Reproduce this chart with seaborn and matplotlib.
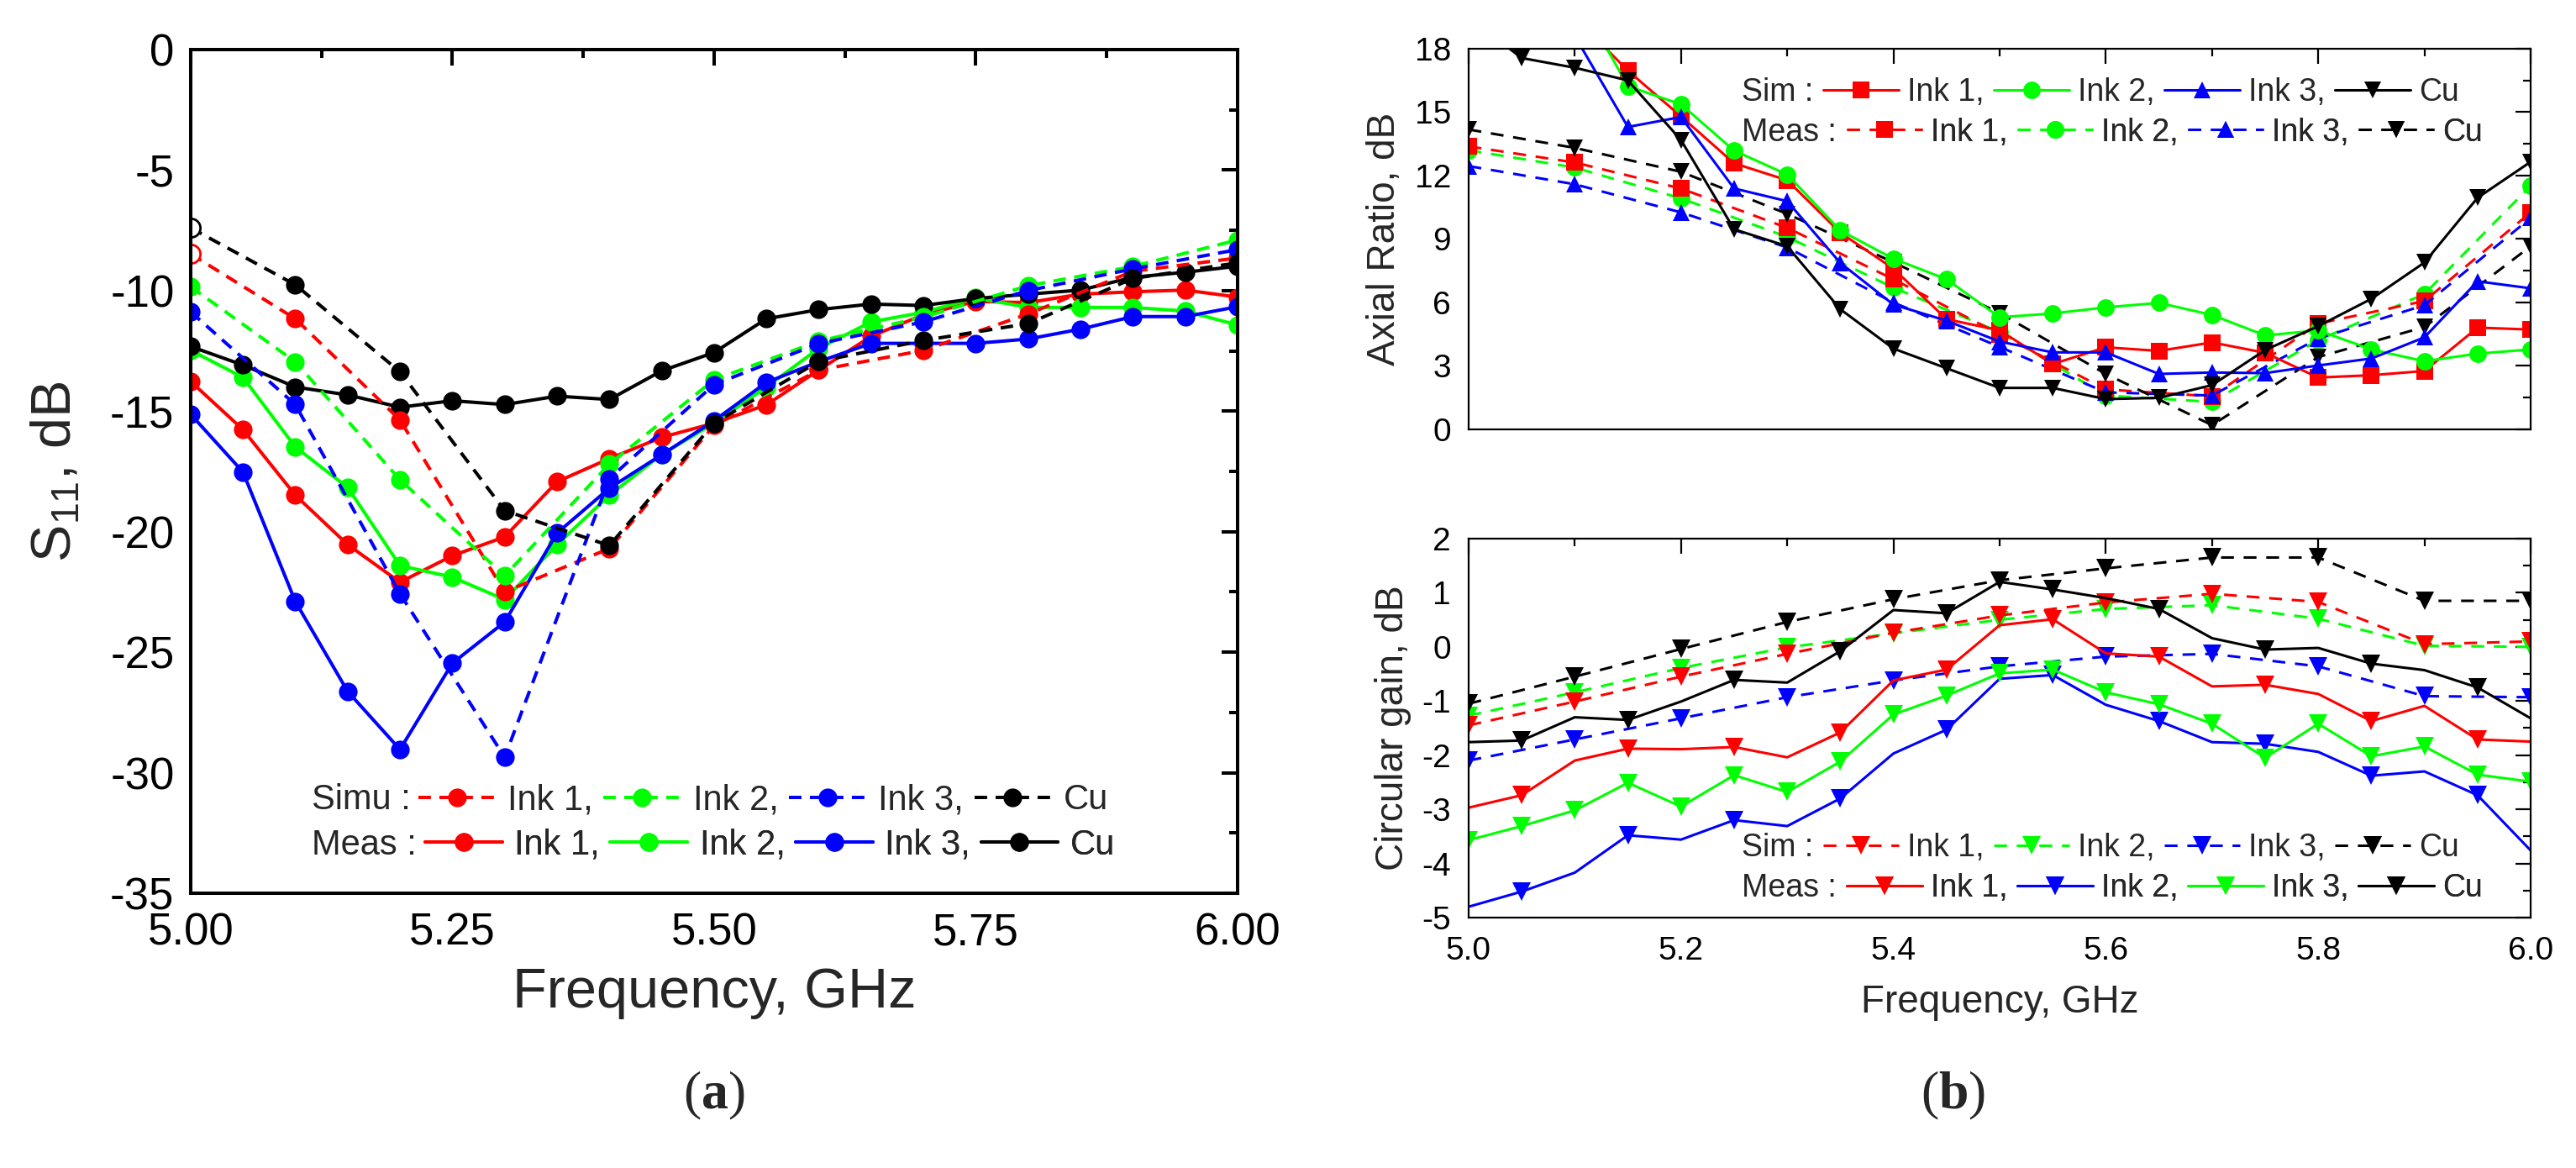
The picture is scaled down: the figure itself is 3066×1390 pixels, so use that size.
import matplotlib
matplotlib.use("Agg")
import numpy as np
import matplotlib.pyplot as plt
import seaborn as sns
from matplotlib.lines import Line2D
from matplotlib.ticker import MultipleLocator, FormatStrFormatter

nan = np.nan

# frequency grids, GHz
freq_fine = [5.00, 5.05, 5.10, 5.15, 5.20, 5.25, 5.30, 5.35, 5.40, 5.45, 5.50,
             5.55, 5.60, 5.65, 5.70, 5.75, 5.80, 5.85, 5.90, 5.95, 6.00]
freq_coarse = [5.0, 5.1, 5.2, 5.3, 5.4, 5.5, 5.6, 5.7, 5.8, 5.9, 6.0]

### (a) S11 ###
s11_sim_ink1 = [-8.48, -11.17, -15.37, -22.5, -20.7, -15.6, -13.3, -12.48, -10.97, -9.2, -8.65]
s11_sim_ink2 = [-9.84, -12.96, -17.85, -21.83, -17.2, -13.7, -12.1, -11.1, -9.8, -9.0, -7.9]
s11_sim_ink3 = [-10.88, -14.73, -22.58, -29.36, -17.8, -13.9, -12.2, -11.3, -10.0, -9.1, -8.3]
s11_sim_cu = [-7.4, -9.76, -13.37, -19.13, -20.58, -15.5, -12.94, -12.07, -11.37, -9.5, -8.85]

s11_meas_ink1 = [-13.77, -15.77, -18.49, -20.54, -22.1, -21.0, -20.22, -17.93, -16.97, -16.09, -15.5,
                 -14.74, -13.3, -11.9, -11.0, -10.45, -10.5, -10.15, -10.05, -9.98, -10.27]
s11_meas_ink2 = [-12.48, -13.6, -16.49, -18.17, -21.41, -21.89, -22.82, -20.54, -18.49, -16.8, -15.5,
                 -14.0, -12.4, -11.3, -10.9, -10.3, -10.7, -10.7, -10.7, -10.85, -11.43]
s11_meas_ink3 = [-15.13, -17.53, -22.9, -26.63, -29.04, -25.46, -23.75, -20.06, -18.2, -16.81, -15.4,
                 -13.81, -12.95, -12.19, -12.19, -12.19, -12.01, -11.6, -11.08, -11.08, -10.67]
s11_meas_cu = [-12.32, -13.09, -14.0, -14.33, -14.84, -14.57, -14.73, -14.38, -14.52, -13.33, -12.57,
               -11.17, -10.79, -10.56, -10.62, -10.33, -10.15, -9.98, -9.45, -9.24, -8.99]

### (b) axial ratio ###
ar_sim_ink1 = [nan, nan, 19.5, 16.96, 14.8, 12.58, 11.78, 9.3, 7.6, 5.21, 4.68,
               3.09, 3.88, 3.71, 4.11, 3.62, 2.45, 2.56, 2.76, 4.81, 4.72]
ar_sim_ink2 = [nan, nan, 20.7, 16.23, 15.37, 13.18, 12.05, 9.4, 8.07, 7.1, 5.3,
               5.48, 5.77, 5.98, 5.41, 4.44, 4.68, 3.78, 3.22, 3.58, 3.78]
ar_sim_ink3 = [nan, nan, 18.6, 14.3, 14.77, 11.39, 10.79, 7.87, 5.9, 5.14, 4.15,
               3.64, 3.64, 2.62, 2.69, 2.66, 3.02, 3.35, 4.35, 7.0, 6.67]
ar_sim_cu = [19.5, 17.56, 17.1, 16.5, 13.68, 9.46, 8.66, 5.68, 3.82, 2.89, 1.96,
             1.96, 1.43, 1.49, 2.09, 3.75, 4.88, 6.17, 7.89, 10.95, 12.65]

ar_meas_ink1 = [13.38, 12.62, 11.39, 9.53, 7.1, 4.5, 1.89, 1.56, 5.0, 6.07, 10.26]
ar_meas_ink2 = [13.2, 12.38, 10.92, 9.1, 6.7, 4.6, 1.6, 1.3, 4.22, 6.4, 11.52]
ar_meas_ink3 = [12.45, 11.59, 10.26, 8.6, 6.0, 3.9, 1.75, 1.6, 4.3, 5.87, 10.0]
ar_meas_cu = [14.18, 13.31, 12.18, 10.19, 7.9, 5.5, 2.62, 0.2, 3.42, 4.84, 8.66]

### (b) circular gain ###
gain_sim_ink1 = [-1.45, -1.01, -0.55, -0.13, 0.26, 0.58, 0.82, 0.98, 0.83, 0.05, 0.10]
gain_sim_ink2 = [-1.27, -0.84, -0.39, -0.01, 0.25, 0.5, 0.7, 0.77, 0.52, 0.02, 0.0]
gain_sim_ink3 = [-2.10, -1.71, -1.32, -0.93, -0.62, -0.36, -0.18, -0.13, -0.36, -0.91, -0.93]
gain_sim_cu = [-1.05, -0.55, -0.04, 0.46, 0.88, 1.23, 1.45, 1.65, 1.65, 0.85, 0.85]

gain_meas_ink1 = [-2.97, -2.74, -2.10, -1.88, -1.89, -1.85, -2.04, -1.58, -0.62, -0.42, 0.4,
                  0.51, -0.12, -0.18, -0.73, -0.70, -0.87, -1.37, -1.09, -1.71, -1.75]
gain_meas_ink2 = [-4.80, -4.52, -4.17, -3.48, -3.56, -3.20, -3.31, -2.80, -1.97, -1.53, -0.59,
                  -0.52, -1.07, -1.37, -1.76, -1.79, -1.94, -2.38, -2.30, -2.74, -3.76]
gain_meas_ink3 = [-3.57, -3.31, -3.02, -2.51, -2.95, -2.37, -2.68, -2.12, -1.25, -0.9, -0.49,
                  -0.42, -0.84, -1.06, -1.42, -2.05, -1.42, -2.02, -1.84, -2.36, -2.49]
gain_meas_cu = [-1.76, -1.73, -1.30, -1.35, -1.01, -0.61, -0.66, -0.08, 0.68, 0.62, 1.2,
                1.06, 0.9, 0.70, 0.16, -0.05, -0.02, -0.31, -0.43, -0.75, -1.32]

legend_labels = ['Ink 1,', 'Ink 2,', 'Ink 3,', 'Cu']

RED, GREEN, BLUE, BLACK = '#ff0000', '#00ff00', '#0000ff', '#000000'

sns.set_theme(style="white")
plt.rcParams['font.family'] = ['Liberation Sans', 'DejaVu Sans']
plt.rcParams['axes.unicode_minus'] = False
plt.rcParams['mathtext.fontset'] = 'custom'
plt.rcParams['mathtext.rm'] = 'Liberation Sans'
plt.rcParams['mathtext.it'] = 'Liberation Sans:italic'
plt.rcParams['mathtext.bf'] = 'Liberation Serif:bold'


def draw(ax, x, y, color, marker, dashed, lw, ms, dash, markevery=None):
    ls = (0, dash) if dashed else '-'
    sns.lineplot(x=x, y=y, ax=ax, color=color, marker=marker, markersize=ms,
                 linewidth=lw, linestyle=ls, markeredgewidth=0, markevery=markevery,
                 sort=False, estimator=None, legend=False)


def handle(color, marker, dashed, lw, ms, dash):
    ls = (0, dash) if dashed else '-'
    return Line2D([], [], color=color, marker=marker, markersize=ms, linewidth=lw,
                  linestyle=ls, markeredgewidth=0)


def two_row_legend(ax, prefixes, rows, prefix_x, handle_x, row_y, fs, hl, htp, cs):
    for pre, hx, y, hs in zip(prefixes, handle_x, row_y, rows):
        ax.text(prefix_x, y, pre, transform=ax.transAxes, fontsize=fs,
                ha='left', va='center')
        leg = ax.legend(hs, legend_labels, ncol=4, loc='center left',
                        bbox_to_anchor=(hx, y), frameon=False, fontsize=fs,
                        handlelength=hl, handletextpad=htp, columnspacing=cs,
                        borderpad=0, borderaxespad=0, numpoints=1)
        ax.add_artist(leg)


fig = plt.figure(figsize=(30.66, 13.90), dpi=100)
ax1 = fig.add_axes([0.0740, 0.2353, 0.4064, 0.7223])
ax2 = fig.add_axes([0.5701, 0.6324, 0.4123, 0.3259])
ax3 = fig.add_axes([0.5701, 0.2144, 0.4123, 0.3245])

### (a) ###
lwa, msa, dasha = 2.9, 16, (3.7, 2.5)
cols = [RED, GREEN, BLUE, BLACK]
meas_a = [s11_meas_ink1, s11_meas_ink2, s11_meas_ink3, s11_meas_cu]
sim_a = [s11_sim_ink1, s11_sim_ink2, s11_sim_ink3, s11_sim_cu]
for c, y in zip(cols, meas_a):
    draw(ax1, freq_fine, y, c, 'o', False, lwa, msa, dasha)
for c, y in zip(cols, sim_a):
    draw(ax1, freq_coarse, y, c, 'o', True, lwa, msa, dasha)
# first simulated points of Ink 1 and Cu are drawn hollow
for c, y in [(RED, s11_sim_ink1), (BLACK, s11_sim_cu)]:
    ax1.plot(freq_coarse[:1], y[:1], 'o', ms=msa, mfc='white', mec=c, mew=2)

ax1.set_xlim(5.0, 6.0)
ax1.set_ylim(-35, 0)
ax1.xaxis.set_major_locator(MultipleLocator(0.25))
ax1.xaxis.set_minor_locator(MultipleLocator(0.125))
ax1.yaxis.set_major_locator(MultipleLocator(5))
ax1.yaxis.set_minor_locator(MultipleLocator(2.5))
ax1.xaxis.set_major_formatter(FormatStrFormatter('%.2f'))
ax1.tick_params(which='both', direction='in', top=True, right=True, width=2.9,
                labelsize=38, colors='black')
ax1.tick_params(which='major', length=14)
ax1.tick_params(which='minor', length=7)
ax1.tick_params(axis='x', pad=16)
ax1.tick_params(axis='y', pad=14)
for sp in ax1.spines.values():
    sp.set_linewidth(2.9)
    sp.set_color('black')
ax1.set_xlabel('Frequency, GHz', fontsize=48)
ax1.set_ylabel('S$_{11}$, dB', fontsize=48)
ax1.xaxis.set_label_coords(0.5, -0.088)
ax1.yaxis.set_label_coords(-0.103, 0.5)

rows_a = [[handle(c, 'o', True, lwa, msa, dasha) for c in cols],
          [handle(c, 'o', False, lwa, msa, dasha) for c in cols]]
two_row_legend(ax1, ['Simu :', 'Meas :'], rows_a, 0.116, [0.2175, 0.224],
               [0.11, 0.057], 30, 2.2, 0.35, 0.3)

### (b) axial ratio ###
lwb, msb, dashb = 2.2, 15, (5, 3.8)
marks = ['s', 'o', '^', 'v']
sim_ar = [ar_sim_ink1, ar_sim_ink2, ar_sim_ink3, ar_sim_cu]
meas_ar = [ar_meas_ink2, ar_meas_ink1, ar_meas_ink3, ar_meas_cu]
meas_ar_cols = [GREEN, RED, BLUE, BLACK]
meas_ar_marks = ['o', 's', '^', 'v']
for c, m, y in zip(meas_ar_cols, meas_ar_marks, meas_ar):
    draw(ax2, freq_coarse, y, c, m, True, lwb, msb, dashb)
for c, m, y in zip(cols, marks, sim_ar):
    draw(ax2, freq_fine, y, c, m, False, lwb, msb, dashb)

ax2.set_xlim(5.0, 6.0)
ax2.set_ylim(0, 18)
ax2.yaxis.set_major_locator(MultipleLocator(3))
ax2.yaxis.set_minor_locator(MultipleLocator(1.5))
ax2.set_ylabel('Axial Ratio, dB', fontsize=33)
ax2.yaxis.set_label_coords(-0.062, 0.5)
rows_ar = [[handle(c, m, False, lwb, msb, dashb) for c, m in zip(cols, marks)],
           [handle(c, m, True, lwb, msb, dashb) for c, m in zip(cols, marks)]]
two_row_legend(ax2, ['Sim :', 'Meas :'], rows_ar, 0.257, [0.334, 0.356],
               [0.885, 0.78], 27, 2.4, 0.27, 0.3)

### (b) circular gain ###
mst = 16
sim_g = [gain_sim_ink2, gain_sim_ink1, gain_sim_ink3, gain_sim_cu]
sim_g_cols = [GREEN, RED, BLUE, BLACK]
meas_g = [gain_meas_ink1, gain_meas_ink2, gain_meas_ink3, gain_meas_cu]
meas_g_cols = [RED, BLUE, GREEN, BLACK]
meas_g_every = [(1, 2), (1, 2), None, (1, 2)]
for c, y in zip(sim_g_cols, sim_g):
    draw(ax3, freq_coarse, y, c, 'v', True, lwb, mst, dashb)
for c, y, me in zip(meas_g_cols, meas_g, meas_g_every):
    draw(ax3, freq_fine, y, c, 'v', False, lwb, mst, dashb, markevery=me)

ax3.set_xlim(5.0, 6.0)
ax3.set_ylim(-5, 2)
ax3.yaxis.set_major_locator(MultipleLocator(1))
ax3.yaxis.set_minor_locator(MultipleLocator(0.5))
ax3.set_xlabel('Frequency, GHz', fontsize=33)
ax3.set_ylabel('Circular gain, dB', fontsize=33)
ax3.xaxis.set_label_coords(0.5, -0.175)
ax3.yaxis.set_label_coords(-0.054, 0.5)
rows_g = [[handle(c, 'v', True, lwb, mst, dashb) for c in [RED, GREEN, BLUE, BLACK]],
          [handle(c, 'v', False, lwb, mst, dashb) for c in [RED, BLUE, GREEN, BLACK]]]
two_row_legend(ax3, ['Sim :', 'Meas :'], rows_g, 0.257, [0.334, 0.356],
               [0.184, 0.078], 27, 2.4, 0.27, 0.3)

for ax in (ax2, ax3):
    ax.xaxis.set_major_locator(MultipleLocator(0.2))
    ax.xaxis.set_minor_locator(MultipleLocator(0.1))
    ax.xaxis.set_major_formatter(FormatStrFormatter('%.1f'))
    ax.tick_params(which='both', direction='in', top=True, right=True, width=1.6,
                   labelsize=28, colors='black')
    ax.tick_params(which='major', length=13)
    ax.tick_params(which='minor', length=6.5)
    ax.tick_params(axis='x', pad=16)
    ax.tick_params(axis='y', pad=15)
    for sp in ax.spines.values():
        sp.set_linewidth(1.6)
        sp.set_color('black')
ax2.tick_params(axis='x', labelbottom=False)

fig.text(0.2772, 0.062, r'($\mathbf{a}$)', family='Liberation Serif', fontsize=46,
         ha='center', va='center')
fig.text(0.7583, 0.062, r'($\mathbf{b}$)', family='Liberation Serif', fontsize=46,
         ha='center', va='center')

fig.savefig('out.png', dpi=100, facecolor='white')
plt.close(fig)
